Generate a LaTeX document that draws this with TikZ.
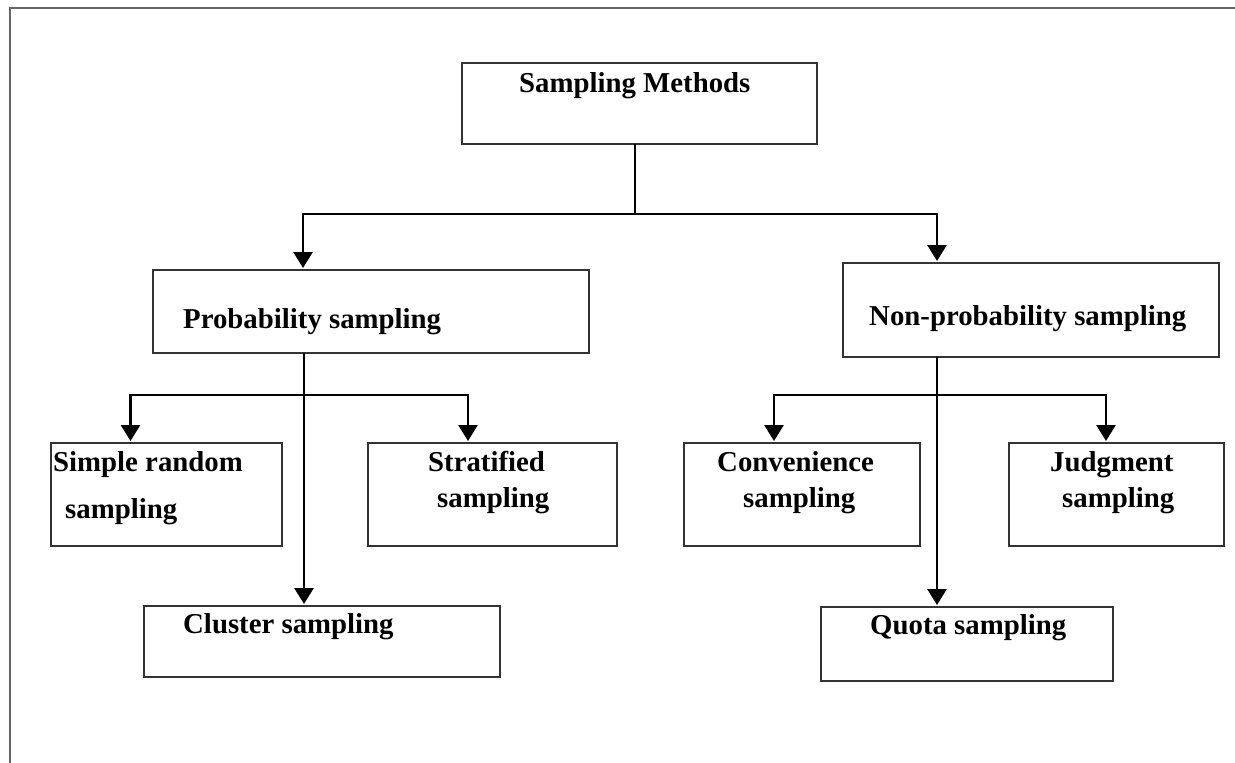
\documentclass[tikz,border=0pt]{standalone}
\usepackage{fontspec}
\setmainfont{Liberation Serif}
\usetikzlibrary{arrows.meta}
\begin{document}
\begin{tikzpicture}[x=1pt,y=-1pt,
  box/.style={draw=black!80, line width=1.8pt, anchor=north west, inner sep=0pt, outer sep=0pt},
  conn/.style={draw=black, line width=2.8pt},
  arr/.style={conn, -{Triangle[width=19pt,length=16pt]}, shorten >=2pt},
  lbl/.style={anchor=base west, inner sep=0pt, font=\fontsize{28.8}{34}\selectfont\bfseries},
  frame/.style={draw=black!60, line width=2.2pt}]
\useasboundingbox (0,0) rectangle (1235,763);
\fill[white] (0,0) rectangle (1235,763);
% outer frame
\coordinate (fa) at (10,763);
\coordinate (fb) at (10,8);
\coordinate (fc) at (1235,8);
\draw[frame] (fa) -- (fb) -- (fc);
% boxes
\node[box, minimum width=355pt, minimum height=81pt] (sm) at (462,63) {};
\node[box, minimum width=436pt, minimum height=83pt] (prob) at (153,270) {};
\node[box, minimum width=376pt, minimum height=94pt] (nonprob) at (843,263) {};
\node[box, minimum width=231pt, minimum height=103pt] (srs) at (51,443) {};
\node[box, minimum width=249pt, minimum height=103pt] (strat) at (368,443) {};
\node[box, minimum width=356pt, minimum height=71pt] (clus) at (144,606) {};
\node[box, minimum width=236pt, minimum height=103pt] (conv) at (684,443) {};
\node[box, minimum width=215pt, minimum height=103pt] (judg) at (1009,443) {};
\node[box, minimum width=292pt, minimum height=74pt] (quota) at (821,607) {};
% labels
\node[lbl] (tsm) at (519,92) {Sampling Methods};
\node[lbl] (tprob) at (183,328) {Probability sampling};
\node[lbl] (tnon) at (869,325) {Non-probability sampling};
\node[lbl] (tsrs1) at (53,471) {Simple random};
\node[lbl] (tsrs2) at (65,518) {sampling};
\node[lbl] (tstr1) at (428,471) {Stratified};
\node[lbl] (tstr2) at (437,507) {sampling};
\node[lbl] (tclu) at (183,633) {Cluster sampling};
\node[lbl] (tcon1) at (717,471) {Convenience};
\node[lbl] (tcon2) at (743,507) {sampling};
\node[lbl] (tjud1) at (1050,471) {Judgment};
\node[lbl] (tjud2) at (1062,507) {sampling};
\node[lbl] (tquo) at (870,634) {Quota sampling};
% connectors: top level
\coordinate (j1) at (635,214);
\draw[conn] ([xshift=173pt]sm.south west) -- (j1);
\draw[arr] (j1) -| ([xshift=150pt]prob.north west);
\draw[arr] (j1) -| ([xshift=94pt]nonprob.north west);
% left subtree
\coordinate (lb) at (304,395);
\draw[arr] ([xshift=151pt]prob.south west) -- ([xshift=160pt]clus.north west);
\draw[arr] (lb) -| ([xshift=79.5pt]srs.north west);
\draw[arr] (lb) -| ([xshift=100pt]strat.north west);
% right subtree
\coordinate (rb) at (937,395);
\draw[arr] ([xshift=94pt]nonprob.south west) -- ([xshift=116pt]quota.north west);
\draw[arr] (rb) -| ([xshift=90pt]conv.north west);
\draw[arr] (rb) -| ([xshift=97pt]judg.north west);
\end{tikzpicture}
\end{document}
